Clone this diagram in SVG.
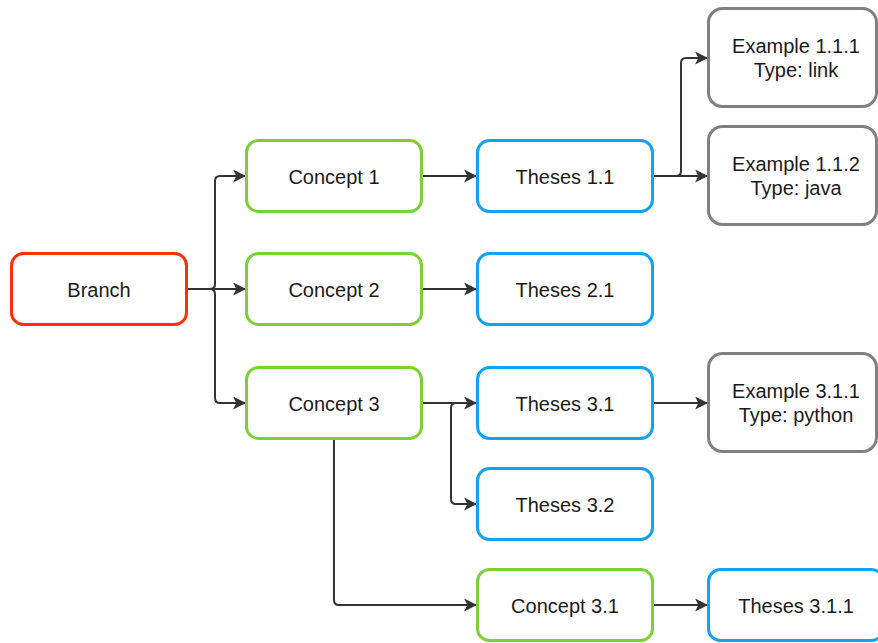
<svg xmlns="http://www.w3.org/2000/svg" width="878" height="643" viewBox="0 0 878 643">
  <style>
    .box { fill: #ffffff; stroke-width: 3; }
    .root { stroke: #ff3008; }
    .concept { stroke: #7ccf35; }
    .theses { stroke: #12a2f2; }
    .example { stroke: #808080; }
    .label { font-family: "Liberation Sans", Arial, sans-serif; font-size: 20px; fill: #1a1a1a; text-anchor: middle; }
    .edge { fill: none; stroke: #333333; stroke-width: 2; }
  </style>
  <defs>
    <marker id="arrow" viewBox="0 0 12 12" refX="11" refY="6" markerWidth="13" markerHeight="13" markerUnits="userSpaceOnUse" orient="auto">
      <path d="M0,0 L12,6 L0,12 L3,6 Z" fill="#333333"/>
    </marker>
  </defs>

  <g id="connectors">
    <!-- Branch fan-out -->
    <path class="edge" d="M187,289 H210 Q215,289 215,284 V181 Q215,176 220,176 H245" marker-end="url(#arrow)"/>
    <path class="edge" d="M187,289 H245" marker-end="url(#arrow)"/>
    <path class="edge" d="M210,289 Q215,289 215,294 V398 Q215,403 220,403 H245" marker-end="url(#arrow)"/>
    <!-- Concept 1 / 2 to theses -->
    <path class="edge" d="M423,176 H476" marker-end="url(#arrow)"/>
    <path class="edge" d="M423,289 H476" marker-end="url(#arrow)"/>
    <!-- Theses 1.1 to examples -->
    <path class="edge" d="M654,176 H676 Q681,176 681,171 V63 Q681,58 686,58 H707" marker-end="url(#arrow)"/>
    <path class="edge" d="M654,176 H707" marker-end="url(#arrow)"/>
    <!-- Concept 3 to theses -->
    <path class="edge" d="M423,403 H476" marker-end="url(#arrow)"/>
    <path class="edge" d="M456,403 Q451,403 451,408 V499 Q451,504 456,504 H476" marker-end="url(#arrow)"/>
    <!-- Concept 3 down to Concept 3.1 -->
    <path class="edge" d="M334,439 V600 Q334,605 339,605 H476" marker-end="url(#arrow)"/>
    <!-- Theses 3.1 to example, Concept 3.1 to theses -->
    <path class="edge" d="M654,403 H707" marker-end="url(#arrow)"/>
    <path class="edge" d="M654,605 H707" marker-end="url(#arrow)"/>
  </g>

  <g id="branch">
    <rect class="box root" x="11.5" y="253.5" width="175" height="71" rx="12"/>
    <text class="label" x="99" y="297">Branch</text>
  </g>
  <g id="concept-1">
    <rect class="box concept" x="246.5" y="140.5" width="175" height="71" rx="12"/>
    <text class="label" x="334" y="184">Concept 1</text>
  </g>
  <g id="concept-2">
    <rect class="box concept" x="246.5" y="253.5" width="175" height="71" rx="12"/>
    <text class="label" x="334" y="297">Concept 2</text>
  </g>
  <g id="concept-3">
    <rect class="box concept" x="246.5" y="367.5" width="175" height="71" rx="12"/>
    <text class="label" x="334" y="411">Concept 3</text>
  </g>
  <g id="theses-1-1">
    <rect class="box theses" x="477.5" y="140.5" width="175" height="71" rx="12"/>
    <text class="label" x="565" y="184">Theses 1.1</text>
  </g>
  <g id="theses-2-1">
    <rect class="box theses" x="477.5" y="253.5" width="175" height="71" rx="12"/>
    <text class="label" x="565" y="297">Theses 2.1</text>
  </g>
  <g id="theses-3-1">
    <rect class="box theses" x="477.5" y="367.5" width="175" height="71" rx="12"/>
    <text class="label" x="565" y="411">Theses 3.1</text>
  </g>
  <g id="theses-3-2">
    <rect class="box theses" x="477.5" y="468.5" width="175" height="71" rx="12"/>
    <text class="label" x="565" y="512">Theses 3.2</text>
  </g>
  <g id="concept-3-1">
    <rect class="box concept" x="477.5" y="569.5" width="175" height="71" rx="12"/>
    <text class="label" x="565" y="613">Concept 3.1</text>
  </g>
  <g id="example-1-1-1">
    <rect class="box example" x="708.5" y="8.5" width="168" height="98" rx="14"/>
    <text class="label" x="796" y="53">Example 1.1.1</text>
    <text class="label" x="796" y="77">Type: link</text>
  </g>
  <g id="example-1-1-2">
    <rect class="box example" x="708.5" y="126.5" width="168" height="98" rx="14"/>
    <text class="label" x="796" y="171">Example 1.1.2</text>
    <text class="label" x="796" y="195">Type: java</text>
  </g>
  <g id="example-3-1-1">
    <rect class="box example" x="708.5" y="353.5" width="168" height="98" rx="14"/>
    <text class="label" x="796" y="398">Example 3.1.1</text>
    <text class="label" x="796" y="422">Type: python</text>
  </g>
  <g id="theses-3-1-1">
    <rect class="box theses" x="708.5" y="569.5" width="175" height="71" rx="12"/>
    <text class="label" x="796" y="613">Theses 3.1.1</text>
  </g>
</svg>
